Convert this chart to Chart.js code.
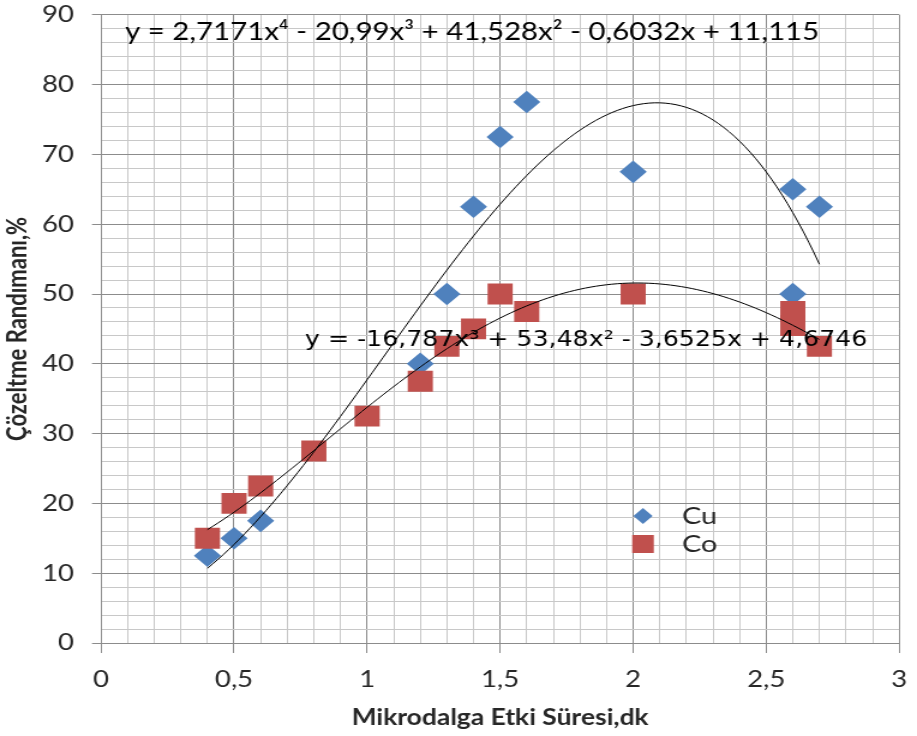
<!DOCTYPE html>
<html>
<head>
<meta charset="utf-8">
<script src="https://cdn.jsdelivr.net/npm/chart.js@4.4.0/dist/chart.umd.min.js"></script>
<style>
html, body { margin: 0; padding: 0; background: #fff; overflow: hidden; }
</style>
</head>
<body>
<canvas id="chart" width="764" height="736" style="display:block;width:917px;height:736px"></canvas>
<script>
// measured values
const cuX = [0.4, 0.5, 0.6, 1.2, 1.3, 1.4, 1.5, 1.6, 2.0, 2.6, 2.6, 2.7];
const cuY = [12.5, 15, 17.5, 40, 50, 62.5, 72.5, 77.5, 67.5, 65, 50, 62.5];
const coX = [0.4, 0.5, 0.6, 0.8, 1.0, 1.2, 1.3, 1.4, 1.5, 1.6, 2.0, 2.6, 2.6, 2.7];
const coY = [15, 20, 22.5, 27.5, 32.5, 37.5, 42.5, 45, 50, 47.5, 50, 47.5, 45.5, 42.5];

// trendline coefficients as printed on the chart (constant term first)
const cuFit = [4.6746, -3.6525, 53.48, -16.787];
const coFit = [11.115, -0.6032, 41.528, -20.99, 2.7171];
const fitRange = [0.4, 2.7];

const cuEquation = 'y = -16,787x³ + 53,48x² - 3,6525x + 4,6746';
const coEquation = 'y = 2,7171x⁴ - 20,99x³ + 41,528x² - 0,6032x + 11,115';
const legendLabels = ['Cu', 'Co'];

const xTickValues = Array.from({length: 31}, (_, i) => i / 10);
const yTickValues = Array.from({length: 46}, (_, i) => i * 2);

const BLUE = '#4f81bd';
const RED = '#c0504d';
const TEXT = '#262626';
const MAJOR = '#8c8c8c';
const MINOR = '#c8c8c8';
const SX = 764 / 917; // canvas is stretched horizontally like the source

function polyPoints(coef) {
    const pts = [];
    for (let x = fitRange[0]; x <= fitRange[1] + 1e-9; x += 0.02) {
        let y = 0;
        coef.forEach((c, i) => { y += c * Math.pow(x, i); });
        pts.push({x: x, y: y});
    }
    return pts;
}

const isMajorX = v => Math.abs(v * 2 - Math.round(v * 2)) < 1e-6;
const isMajorY = v => Math.abs(v % 10) < 1e-6;
const fmt = v => String(Math.round(v * 10) / 10).replace('.', ',');

const overlay = {
    id: 'overlay',
    afterDraw(chart) {
        const ctx = chart.ctx;
        ctx.save();
        ctx.fillStyle = '#000';
        ctx.textBaseline = 'middle';
        ctx.textAlign = 'left';
        ctx.font = '24.5px Lato';
        ctx.fillText(coEquation, 125 * SX, 32);
        ctx.font = '21px "DejaVu Sans"';
        ctx.fillText(cuEquation, 305 * SX, 341);

        // legend
        const lx = 643 * SX;
        ctx.fillStyle = BLUE;
        ctx.beginPath();
        ctx.moveTo(lx, 516 - 8);
        ctx.lineTo(lx + 8, 516);
        ctx.lineTo(lx, 516 + 8);
        ctx.lineTo(lx - 8, 516);
        ctx.closePath();
        ctx.fill();
        ctx.fillStyle = RED;
        ctx.fillRect(lx - 9, 544 - 9, 18, 18);
        ctx.fillStyle = TEXT;
        ctx.font = '24px Lato';
        ctx.fillText(legendLabels[0], 682 * SX, 516);
        ctx.fillText(legendLabels[1], 682 * SX, 544);
        ctx.restore();
    }
};

new Chart(document.getElementById('chart'), {
    type: 'scatter',
    data: {
        datasets: [
            {
                label: legendLabels[0],
                data: cuX.map((x, i) => ({x: x, y: cuY[i]})),
                pointStyle: 'rectRot',
                pointRadius: 11.3,
                backgroundColor: BLUE,
                borderColor: BLUE,
                borderWidth: 0,
                order: 2
            },
            {
                label: legendLabels[1],
                data: coX.map((x, i) => ({x: x, y: coY[i]})),
                pointStyle: 'rect',
                pointRadius: 14.8,
                backgroundColor: RED,
                borderColor: RED,
                borderWidth: 0,
                order: 1
            },
            {
                type: 'line',
                data: polyPoints(cuFit),
                borderColor: '#000',
                borderWidth: 1,
                pointRadius: 0,
                tension: 0,
                order: 0
            },
            {
                type: 'line',
                data: polyPoints(coFit),
                borderColor: '#000',
                borderWidth: 1,
                pointRadius: 0,
                tension: 0,
                order: 0
            }
        ]
    },
    options: {
        responsive: false,
        animation: false,
        devicePixelRatio: 1,
        layout: { padding: { left: 0, right: 10, top: 12, bottom: 0 } },
        plugins: { legend: { display: false }, tooltip: { enabled: false } },
        scales: {
            x: {
                type: 'linear',
                min: 0,
                max: 3,
                afterBuildTicks: s => { s.ticks = xTickValues.map(v => ({value: v})); },
                afterFit: s => {
                    s.height = 93;
                    s.paddingLeft = 0;
                    s.paddingRight = 0;
                },
                ticks: {
                    autoSkip: false,
                    maxRotation: 0,
                    padding: 13,
                    color: TEXT,
                    font: { family: 'Lato', size: 23 },
                    callback: v => isMajorX(v) ? fmt(v) : ''
                },
                grid: {
                    color: c => isMajorX(c.tick.value) ? MAJOR : MINOR,
                    tickColor: c => isMajorX(c.tick.value) ? MAJOR : 'rgba(0,0,0,0)',
                    tickLength: 10
                },
                border: { color: MAJOR },
                title: {
                    display: true,
                    text: 'Mikrodalga Etki Süresi,dk',
                    color: TEXT,
                    font: { family: 'Lato', size: 22, weight: 'bold' },
                    padding: { top: 0, bottom: 5 }
                }
            },
            y: {
                min: 0,
                max: 90,
                afterBuildTicks: s => { s.ticks = yTickValues.map(v => ({value: v})); },
                afterFit: s => {
                    s.width = 101 * SX;
                    s.paddingTop = 0;
                    s.paddingBottom = 0;
                },
                ticks: {
                    autoSkip: false,
                    padding: 15,
                    color: TEXT,
                    font: { family: 'Lato', size: 23 },
                    callback: v => isMajorY(v) ? String(v) : ''
                },
                grid: {
                    color: c => isMajorY(c.tick.value) ? MAJOR : MINOR,
                    tickColor: c => isMajorY(c.tick.value) ? MAJOR : 'rgba(0,0,0,0)',
                    tickLength: 7.5
                },
                border: { color: MAJOR },
                title: {
                    display: true,
                    text: 'Çözeltme Randımanı,%',
                    color: TEXT,
                    font: { family: 'Lato', size: 22, weight: 'bold' },
                    padding: { top: 2, bottom: 0 }
                }
            }
        }
    },
    plugins: [overlay]
});
</script>
</body>
</html>
